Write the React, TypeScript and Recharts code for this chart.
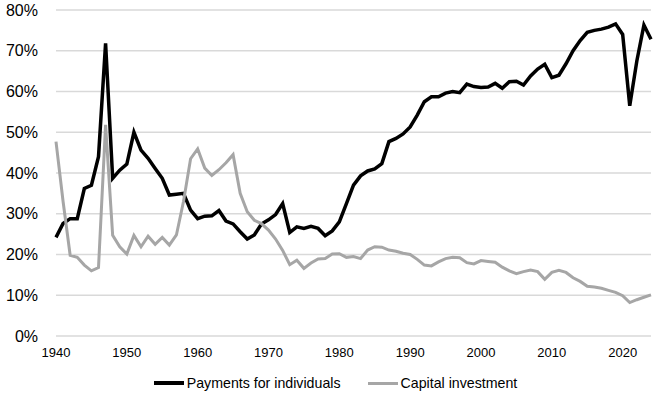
import React from "react";
import { LineChart, Line, XAxis, YAxis, CartesianGrid, Legend } from "recharts";

// share of outlays, percent, 1940-2024
const firstYear = 1940;
const payments = [
  24.2, 27.6, 28.8, 28.8, 36.2, 37, 44, 71.8, 38.7, 40.7,
  42.2, 50, 45.6, 43.6, 41.1, 38.7, 34.6, 34.8, 35, 30.9,
  28.8, 29.4, 29.5, 30.8, 28.2, 27.5, 25.6, 23.8, 24.8, 27.5,
  28.5, 29.8, 32.5, 25.4, 26.8, 26.4, 26.9, 26.4, 24.6, 25.8,
  28, 32.5, 37, 39.3, 40.5, 41, 42.3, 47.7, 48.5, 49.6,
  51.3, 54.2, 57.5, 58.7, 58.7, 59.6, 60, 59.7, 61.8, 61.2,
  61, 61.1, 62, 60.8, 62.4, 62.5, 61.6, 63.8, 65.5, 66.7,
  63.4, 64, 66.8, 70, 72.5, 74.5, 75, 75.3, 75.8, 76.6,
  74, 56.5, 67.5, 76.3, 72.8,
];
const capital = [
  47.7, 33, 19.8, 19.3, 17.4, 16, 16.8, 51.8, 24.7, 21.9,
  20.1, 24.7, 21.9, 24.5, 22.5, 24.2, 22.3, 24.8, 33, 43.5,
  45.9, 41.2, 39.4, 40.8, 42.5, 44.5, 35, 30.5, 28.4, 27.6,
  26, 23.8, 21, 17.5, 18.6, 16.6, 17.9, 18.9, 19, 20.1,
  20.2, 19.3, 19.5, 19, 21.1, 21.9, 21.8, 21.1, 20.8, 20.3,
  20, 18.8, 17.4, 17.2, 18.2, 19, 19.3, 19.2, 18, 17.7,
  18.5, 18.3, 18.1, 16.9, 16, 15.3, 15.8, 16.2, 15.8, 13.9,
  15.6, 16.1, 15.6, 14.3, 13.4, 12.2, 12, 11.7, 11.2, 10.7,
  9.9, 8.2, 8.9, 9.5, 10.1,
];
const xTicks = [1940, 1950, 1960, 1970, 1980, 1990, 2000, 2010, 2020];
const yTicks = [0, 10, 20, 30, 40, 50, 60, 70, 80];

const seriesInfo = [
  { key: "payments", name: "Payments for individuals", color: "#000000", width: 3.5 },
  { key: "capital", name: "Capital investment", color: "#a6a6a6", width: 3 },
];

const data = payments.map((p, i) => ({
  year: firstYear + i,
  payments: p,
  capital: capital[i],
}));

const font = "'Liberation Sans', Arial, sans-serif";

function ChartLegend() {
  return (
    <div style={{ height: 30, paddingLeft: 20, boxSizing: "border-box", display: "flex", justifyContent: "center", alignItems: "center", gap: 27, fontFamily: font, fontSize: 14.2, color: "#000" }}>
      {seriesInfo.map((s) => (
        <div key={s.key} style={{ display: "flex", alignItems: "center", gap: 3 }}>
          <span style={{ display: "inline-block", width: 30, height: s.width, background: s.color }} />
          <span>{s.name}</span>
        </div>
      ))}
    </div>
  );
}

export default function App() {
  return (
    <div style={{ position: "absolute", left: 0, top: 0, width: 657, height: 398, background: "#fff" }}>
      <LineChart width={657} height={398} data={data} margin={{ top: 10, right: 6, left: 0, bottom: 0 }}>
        <CartesianGrid vertical={false} stroke="#d9d9d9" strokeWidth={1.3} />
        <XAxis
          dataKey="year"
          type="number"
          domain={[1940, 2024]}
          ticks={xTicks}
          axisLine={false}
          tickLine={false}
          tickSize={6}
          tickMargin={6}
          height={32}
          interval={0}
          tick={{ fill: "#000", fontSize: 13, fontFamily: font }}
        />
        <YAxis
          domain={[0, 80]}
          ticks={yTicks}
          width={56}
          axisLine={false}
          tickLine={false}
          tickSize={0}
          tickMargin={18}
          tickFormatter={(v) => `${v}%`}
          tick={{ fill: "#000", fontSize: 16, fontFamily: font }}
        />
        <Legend verticalAlign="bottom" content={() => <ChartLegend />} />
        {seriesInfo.map((s) => (
          <Line
            key={s.key}
            dataKey={s.key}
            name={s.name}
            stroke={s.color}
            strokeWidth={s.width}
            dot={false}
            type="linear"
            isAnimationActive={false}
          />
        ))}
      </LineChart>
    </div>
  );
}
